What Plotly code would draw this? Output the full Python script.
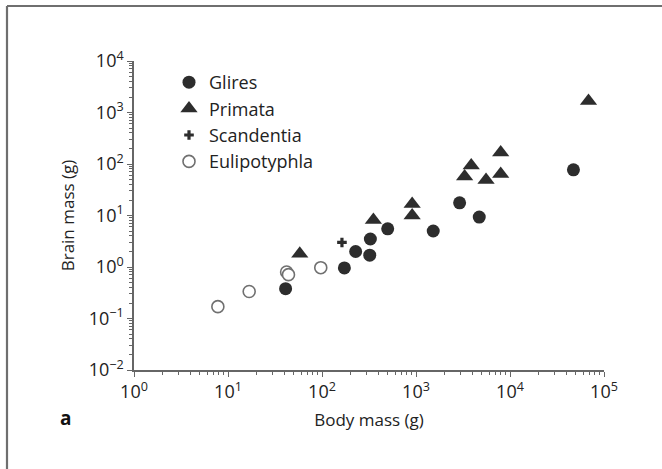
import plotly.graph_objects as go

# ---- data (body mass g, brain mass g) ----
glires_body = [41, 173, 228, 322, 327, 500, 1525, 2910, 4710, 47300]
glires_brain = [0.38, 0.96, 2.0, 1.7, 3.5, 5.5, 5.0, 17.6, 9.3, 77]

primata_body = [58, 352, 910, 910, 3290, 3870, 5560, 7960, 7960, 68400]
primata_brain = [1.8, 8.2, 10, 16.8, 57, 93, 49, 64, 168, 1680]

scandentia_body = [163]
scandentia_brain = [3.0]

eulipotyphla_body = [7.8, 16.8, 42, 44, 97]
eulipotyphla_brain = [0.17, 0.335, 0.80, 0.71, 0.97]

x_tickvals = [1, 10, 100, 1000, 10000, 100000]
x_ticktext = ["10<sup>0</sup>", "10<sup>1</sup>", "10<sup>2</sup>",
              "10<sup>3</sup>", "10<sup>4</sup>", "10<sup>5</sup>"]
y_tickvals = [0.01, 0.1, 1, 10, 100, 1000, 10000]
y_ticktext = ["10<sup>\u22122</sup>", "10<sup>\u22121</sup>", "10<sup>0</sup>",
              "10<sup>1</sup>", "10<sup>2</sup>", "10<sup>3</sup>", "10<sup>4</sup>"]

DARK = "#2d2d2d"
FONT = "Open Sans"

fig = go.Figure()
fig.add_trace(go.Scatter(x=glires_body, y=glires_brain, mode="markers", name="Glires",
                         marker=dict(symbol="circle", size=13, color=DARK, line=dict(width=0))))
fig.add_trace(go.Scatter(x=primata_body, y=primata_brain, mode="markers", name="Primata",
                         marker=dict(symbol="triangle-up", size=15, color=DARK, line=dict(width=0))))
fig.add_trace(go.Scatter(x=scandentia_body, y=scandentia_brain, mode="markers", name="Scandentia",
                         marker=dict(symbol="cross", size=8, color=DARK, line=dict(width=0))))
fig.add_trace(go.Scatter(x=eulipotyphla_body, y=eulipotyphla_brain, mode="markers", name="Eulipotyphla",
                         marker=dict(symbol="circle", size=12, color="white",
                                     line=dict(width=1.6, color="#707070"))))

W, H = 662, 469
L, R, T, B = 134, 58, 61, 99
pw, ph = W - L - R, H - T - B

def px_x(p):
    return (p - L) / pw

def px_y(p):
    return (H - B - p) / ph

axis_common = dict(
    type="log", showgrid=False, zeroline=False, showline=True,
    linecolor="#666666", linewidth=1.5, ticks="outside", ticklen=5,
    tickwidth=1.2, tickcolor="#666666", mirror=False,
    tickfont=dict(family=FONT, size=18, color="#222222"),
    minor=dict(ticks="outside", ticklen=3, tickwidth=1, tickcolor="#666666",
               dtick="D1", showgrid=False),
)

fig.update_xaxes(**axis_common, range=[0, 5], tickmode="array",
                 tickvals=x_tickvals, ticktext=x_ticktext,
                 title=dict(text="Body mass (g)", font=dict(family=FONT, size=17, color="#222222"),
                            standoff=12))
fig.update_yaxes(**axis_common, range=[-2, 4], tickmode="array",
                 tickvals=y_tickvals, ticktext=y_ticktext,
                 title=dict(text="Brain mass (g)", font=dict(family=FONT, size=17, color="#222222"),
                            standoff=10))

fig.update_layout(
    width=W, height=H, autosize=False,
    margin=dict(l=L, r=R, t=T, b=B),
    paper_bgcolor="white", plot_bgcolor="white",
    font=dict(family=FONT, color="#222222"),
    legend=dict(x=px_x(169), y=px_y(64), xanchor="left", yanchor="top",
                bgcolor="rgba(0,0,0,0)", borderwidth=0,
                font=dict(family=FONT, size=18, color="#222222"),
                itemsizing="trace", tracegroupgap=0),
    shapes=[
        dict(type="line", xref="paper", yref="paper", x0=px_x(7), x1=px_x(W + 20),
             y0=px_y(6), y1=px_y(6), line=dict(color="#6f6f6f", width=2.2)),
        dict(type="line", xref="paper", yref="paper", x0=px_x(7), x1=px_x(7),
             y0=px_y(6), y1=px_y(H + 20), line=dict(color="#6f6f6f", width=2.2)),
    ],
    annotations=[
        dict(text="<b>a</b>", xref="paper", yref="paper", x=px_x(65), y=px_y(418),
             showarrow=False, font=dict(family=FONT, size=19, color="#111111"),
             xanchor="center", yanchor="middle"),
    ],
)

fig.write_html("out.html")
